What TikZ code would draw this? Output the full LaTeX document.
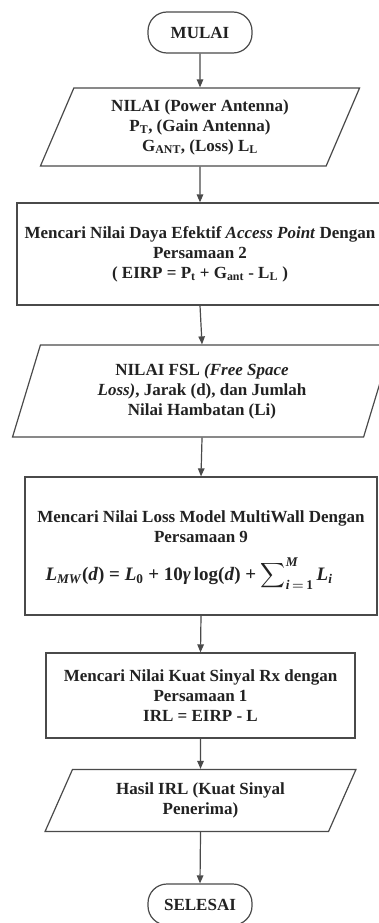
\documentclass[tikz,border=0pt]{standalone}
\usepackage{fix-cm}
\usepackage{exscale}
\usepackage{amsmath}
\usepackage{fontspec}
\setmainfont{Liberation Serif}
\usetikzlibrary{shapes.geometric,arrows.meta}
\definecolor{linecol}{HTML}{4A4A4A}
\definecolor{txtcol}{HTML}{222222}
\begin{document}
\begin{tikzpicture}[x=1pt,y=-1pt,
  base/.style={draw=linecol, line width=1.2pt, align=center,
    font=\fontsize{17}{20}\selectfont\bfseries, text=txtcol, inner sep=0pt},
  plain/.style={align=center, font=\fontsize{17}{20}\selectfont\bfseries, text=txtcol, inner sep=0pt},
  eqtext/.style={font=\fontsize{19}{22}\selectfont\bfseries\boldmath, text=txtcol, inner sep=0pt},
  term/.style={base, rectangle, rounded corners=19pt, minimum width=104pt, minimum height=41pt},
  proc/.style={base, rectangle},
  io/.style={base, trapezium, trapezium stretches=true},
  arr/.style={draw=linecol, line width=1.2pt, -{Triangle[length=8pt,width=6.5pt]}}
]
\useasboundingbox (0,0) rectangle (379,923);
\fill[white] (0,0) rectangle (379,923);
\clip (0,0) rectangle (379,923);

\node[term] (start) at (200,32.5) {MULAI};

\node[io, trapezium left angle=67, trapezium right angle=113,
      minimum width=320pt, minimum height=78pt] (in1) at (200,127)
  {NILAI (Power Antenna)\\P\textsubscript{T}, (Gain Antenna)\\G\textsubscript{ANT}, (Loss) L\textsubscript{L}};

\node[proc, minimum width=366pt, minimum height=102pt] (eirp) at (200,254)
  {Mencari Nilai Daya Efektif \textit{Access Point} Dengan\\Persamaan 2\\( EIRP = P\textsubscript{t} + G\textsubscript{ant} - L\textsubscript{L} )};

\node[io, trapezium left angle=72, trapezium right angle=108,
      minimum width=380pt, minimum height=92pt] (in2) at (202,391)
  {NILAI FSL \textit{(Free Space}\\\textit{Loss)}, Jarak (d), dan Jumlah\\Nilai Hambatan (Li)};

\node[proc, minimum width=352pt, minimum height=138pt] (mw) at (201,546) {};
\node[plain] (mwtxt) at (201,527) {Mencari Nilai Loss Model MultiWall Dengan\\Persamaan 9};
\node[eqtext] (mweq) at (189,574)
  {\textit{L}\textsubscript{\textit{MW}}(\textit{d}) =\ \textit{L}\textsubscript{0} + 10\textit{γ}\,log(\textit{d}) +\ $\displaystyle\sum\nolimits_{\textit{i}\,=\,\mathrm{1}}^{\textit{M}}$\,\textit{L}\textsubscript{\textit{i}}};

\node[proc, minimum width=309pt, minimum height=85pt] (rx) at (200.5,695.5)
  {Mencari Nilai Kuat Sinyal Rx dengan\\Persamaan 1\\IRL = EIRP - L};

\node[io, trapezium left angle=63, trapezium right angle=117,
      minimum width=311pt, minimum height=62pt] (out) at (200.5,800.5)
  {Hasil IRL (Kuat Sinyal\\Penerima)};

\node[term] (stop) at (200,904.5) {SELESAI};

\draw[arr] (start.south) -- (in1.north);
\draw[arr] (in1.south) -- (eirp.north);
\draw[arr] (eirp.south) -- (in2.north);
\draw[arr] (in2.south) -- (mw.north);
\draw[arr] (mw.south) -- (rx.north);
\draw[arr] (rx.south) -- (out.north);
\draw[arr] (out.south) -- (stop.north);
\end{tikzpicture}
\end{document}
